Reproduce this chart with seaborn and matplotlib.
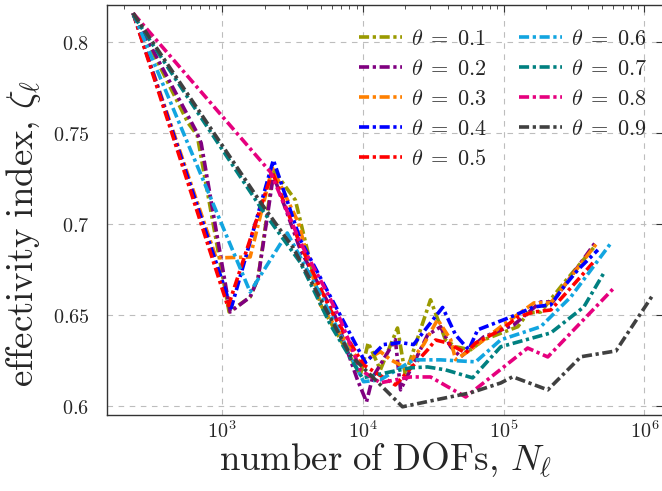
import numpy as np
import pandas as pd
import matplotlib
matplotlib.use("Agg")
import matplotlib.pyplot as plt
import matplotlib.ticker as mticker
import seaborn as sns

sns.set_style("white")
plt.rcParams["mathtext.fontset"] = "cm"
plt.rcParams["font.family"] = ["DejaVu Serif"]

labels = [r"$\theta\;=\;0.1$", r"$\theta\;=\;0.2$", r"$\theta\;=\;0.3$", r"$\theta\;=\;0.4$", r"$\theta\;=\;0.5$",
          r"$\theta\;=\;0.6$", r"$\theta\;=\;0.7$", r"$\theta\;=\;0.8$", r"$\theta\;=\;0.9$"]
colors = ["#9a9a00", "#800080", "#ff8000", "#0000ff", "#ff0000",
          "#12a5e0", "#008080", "#e6007e", "#404040"]

n_01 = [233, 573, 664, 1120, 1580, 1800, 2310, 3310, 4990, 9590, 10900, 13300, 17600, 20000, 30200,
        38600, 45500, 58200, 72100, 126000, 148000, 183000, 267000, 452000]
z_01 = [0.816, 0.7556, 0.749, 0.6518, 0.660, 0.6705, 0.7298, 0.7133, 0.656, 0.6173, 0.6349, 0.620, 0.643,
        0.6173, 0.6585, 0.6364, 0.6327, 0.631, 0.6365, 0.6437, 0.6512, 0.6518, 0.6677, 0.6886]

n_02 = [233, 653, 709, 1140, 1580, 1800, 2090, 2310, 3590, 6370, 9140, 10600, 11700, 17000, 18500, 28800,
        35600, 42000, 49400, 72100, 118000, 183000, 223000, 445000]
z_02 = [0.816, 0.7512, 0.7446, 0.6518, 0.660, 0.6705, 0.704, 0.727, 0.686, 0.6492, 0.6145, 0.6024, 0.6157,
        0.6366, 0.609, 0.6392, 0.6436, 0.6327, 0.6271, 0.6381, 0.6447, 0.6573, 0.6573, 0.6897]

n_03 = [233, 906, 1580, 2270, 3480, 4990, 5880, 9590, 13300, 15700, 20000, 27000, 33900, 42000, 45500,
        58200, 95300, 164000, 216000, 371000, 467000]
z_03 = [0.816, 0.6815, 0.682, 0.731, 0.7008, 0.6558, 0.6476, 0.6239, 0.630, 0.6256, 0.6212, 0.6339, 0.6476,
        0.6366, 0.6256, 0.631, 0.6437, 0.6568, 0.6568, 0.6804, 0.6903]

n_04 = [233, 1160, 2310, 3590, 10400, 14000, 18500, 22900, 36800, 45500, 56400, 65300, 112000, 164000,
        216000, 267000, 336000, 467000]
z_04 = [0.816, 0.654, 0.7353, 0.6915, 0.624, 0.6339, 0.635, 0.6339, 0.6543, 0.6392, 0.631, 0.642, 0.649,
        0.6546, 0.6557, 0.6656, 0.6749, 0.6859]

n_05 = [233, 1100, 2270, 3590, 5880, 10100, 13800, 17000, 28800, 32800, 39900, 53700, 63200, 95300,
        126000, 164000, 216000, 336000, 430000]
z_05 = [0.816, 0.6546, 0.7287, 0.6887, 0.653, 0.6227, 0.6161, 0.6117, 0.631, 0.6364, 0.6348, 0.6293,
        0.6348, 0.6419, 0.649, 0.6518, 0.6529, 0.6694, 0.6788]

n_06 = [233, 1580, 2900, 5240, 10100, 13300, 22900, 35600, 63200, 95300, 183000, 300000, 578000]
z_06 = [0.816, 0.6628, 0.6952, 0.6584, 0.6135, 0.6145, 0.6255, 0.6255, 0.6244, 0.6365, 0.6437, 0.6601,
        0.6897]

n_07 = [233, 1930, 3590, 5880, 9900, 15700, 21800, 28800, 38600, 60100, 95300, 216000, 371000, 515000]
z_07 = [0.815, 0.7078, 0.679, 0.6447, 0.6156, 0.6189, 0.6211, 0.6216, 0.620, 0.6156, 0.6327, 0.6403,
        0.6546, 0.6733]

n_08 = [233, 2200, 3590, 5590, 6920, 9590, 13300, 21800, 30200, 53700, 148000, 205600, 607000]
z_08 = [0.816, 0.7287, 0.690, 0.6622, 0.6475, 0.620, 0.6129, 0.6161, 0.6161, 0.6051, 0.632, 0.6271, 0.665]

n_09 = [233, 1930, 3200, 8150, 10400, 19100, 32800, 58200, 95300, 115800, 205600, 353000, 627000, 1148000]
z_09 = [0.816, 0.7106, 0.687, 0.628, 0.620, 0.5997, 0.6035, 0.6074, 0.6128, 0.6162, 0.609, 0.6272, 0.6304,
        0.6612]

all_n = [n_01, n_02, n_03, n_04, n_05, n_06, n_07, n_08, n_09]
all_z = [z_01, z_02, z_03, z_04, z_05, z_06, z_07, z_08, z_09]

frames = []
for lab, nn, zz in zip(labels, all_n, all_z):
    frames.append(pd.DataFrame({"N": nn, "zeta": zz, "theta": lab}))
df = pd.concat(frames, ignore_index=True)

fig = plt.figure(figsize=(6.62, 4.91), dpi=100)
ax = fig.add_axes([0.1621, 0.1548, 0.8395, 0.8344])

dash = (2.8, 1.0, 0.9, 1.0)
sns.lineplot(data=df, x="N", y="zeta", hue="theta", style="theta", units="theta", estimator=None,
             sort=False, palette=dict(zip(labels, colors)), dashes={l: dash for l in labels},
             hue_order=labels, style_order=labels, linewidth=2.6, ax=ax, legend=False)
for line in ax.get_lines():
    line.set_dash_capstyle("butt")

ax.set_xscale("log")
ax.set_xlim(10 ** 2.184, 10 ** 6.132)
ax.set_ylim(0.5952, 0.8203)

ax.xaxis.set_major_locator(mticker.LogLocator(base=10, numticks=10))
ax.xaxis.set_minor_locator(mticker.LogLocator(base=10, subs=np.arange(2, 10), numticks=20))
ax.xaxis.set_major_formatter(mticker.FuncFormatter(lambda v, p: r"$10^{%d}$" % int(round(np.log10(v)))))
ax.xaxis.set_minor_formatter(mticker.NullFormatter())
ax.yaxis.set_major_locator(mticker.FixedLocator([0.6, 0.65, 0.7, 0.75, 0.8]))
ax.yaxis.set_major_formatter(mticker.FuncFormatter(lambda v, p: r"$%s$" % (("%.2f" % v).rstrip("0"))))

ax.tick_params(which="both", direction="in", top=True, right=True, labelsize=14.5, color="#333333")
ax.tick_params(which="major", length=5, width=0.8)
ax.tick_params(axis="y", which="major", pad=13)
ax.tick_params(axis="x", which="major", pad=4)
ax.tick_params(which="minor", length=3, width=0.6)
ax.grid(True, which="major", color="#bdbdbd", linestyle=(0, (5, 5)), linewidth=0.8)
for s in ["left", "bottom", "top"]:
    ax.spines[s].set_color("#333333")
    ax.spines[s].set_linewidth(1.0)
ax.spines["right"].set_visible(False)

ax.set_xlabel(r"$\mathrm{number\ of\ DOFs,}\,N_\ell$", fontsize=26.5, labelpad=-1)
ax.set_ylabel(r"$\mathrm{effectivity\ index,}\,\zeta_\ell$", fontsize=26.5)
ax.yaxis.set_label_coords(-0.115, 0.444)

handles = [plt.Line2D([], [], color=c, linewidth=2.6, dashes=dash, dash_capstyle="butt") for c in colors]
leg = ax.legend(handles, labels, ncol=2, frameon=False, fontsize=16, loc="upper left",
                bbox_to_anchor=(0.453, 0.945), borderaxespad=0, borderpad=0,
                handlelength=1.94, handletextpad=0.4, columnspacing=1.45, labelspacing=0.36)

fig.savefig("out.png", dpi=100)
